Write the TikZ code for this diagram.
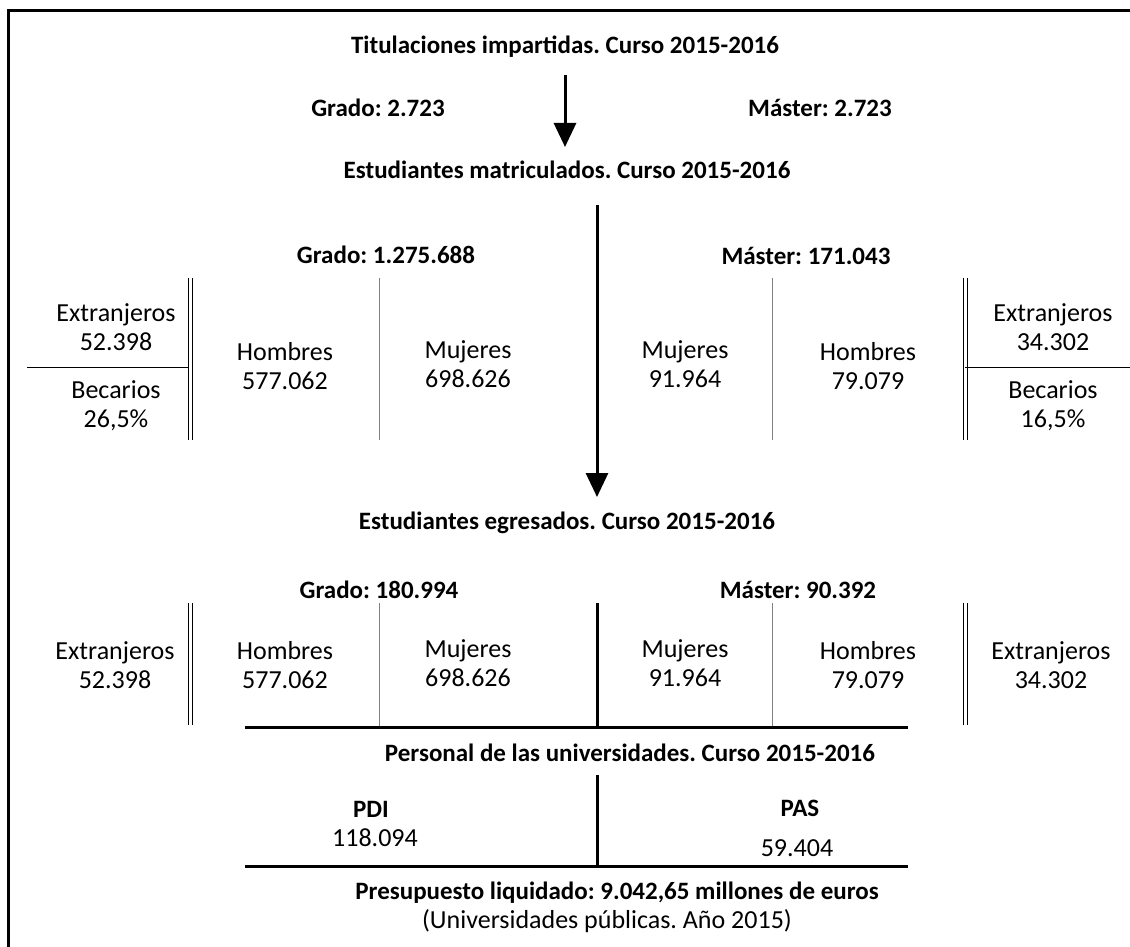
\documentclass[tikz,border=0pt]{standalone}
\usepackage{fontspec}
\setmainfont{Carlito}
\usetikzlibrary{arrows.meta}
\begin{document}
\begin{tikzpicture}[x=1pt,y=-1pt,
  every node/.style={inner sep=0pt,outer sep=0pt,align=center},
  ttl/.style={font=\fontsize{25}{29}\selectfont\bfseries\frenchspacing},
  val/.style={font=\fontsize{26}{29}\selectfont\frenchspacing},
  frameline/.style={line width=3pt},
  heavy/.style={line width=3pt},
  dbl/.style={draw=black,double=white,double distance=3pt,line width=1pt},
  sep/.style={draw=gray,line width=1pt},
  plain/.style={draw=black,line width=1pt},
  arr/.style={line width=3pt,-{Triangle[width=22pt,length=24pt]}}]
\useasboundingbox (0,0) rectangle (1130,947);
% frame
\draw[frameline] (8.5,947) -- (8.5,10.5) -- (1130,10.5);
% top
\node[ttl] (t1) at (565,47) {Titulaciones impartidas. Curso 2015-2016};
\node[ttl] (g1) at (378,108) {Grado: 2.723};
\node[ttl] (m1) at (820,108) {Máster: 2.723};
\coordinate (a1s) at (565,75);
\coordinate (a1e) at (565,147);
\draw[arr] (a1s) -- (a1e);
\node[ttl] (t2) at (567,170) {Estudiantes matriculados. Curso 2015-2016};
\coordinate (a2s) at (597,205);
\coordinate (a2e) at (597,497);
\draw[arr] (a2s) -- (a2e);
% matriculados
\node[ttl] (g2) at (386,255) {Grado: 1.275.688};
\node[ttl] (m2) at (806,256) {Máster: 171.043};
\node[val] (ext1) at (116,327) {Extranjeros\\52.398};
\node[val] (bec1) at (116,406) {Becarios\\26,5\%};
\node[val] (hom1) at (285,366) {Hombres\\577.062};
\node[val] (muj1) at (468,364) {Mujeres\\698.626};
\node[val] (muj2) at (685,364) {Mujeres\\91.964};
\node[val] (hom2) at (868,366) {Hombres\\79.079};
\node[val] (ext2) at (1053,327) {Extranjeros\\34.302};
\node[val] (bec2) at (1053,406) {Becarios\\16,5\%};
\draw[plain] (27,367) -- (190,367);
\draw[dbl] (190,278) -- (190,440);
\draw[sep] (379,278) -- (379,440);
\draw[sep] (772,278) -- (772,440);
\draw[dbl] (965,278) -- (965,440);
\draw[plain] (965,367) -- (1130,367);
% egresados
\node[ttl] (t3) at (567,523) {Estudiantes egresados. Curso 2015-2016};
\node[ttl] (g3) at (379,590) {Grado: 180.994};
\node[ttl] (m3) at (798,590) {Máster: 90.392};
\node[val] (ext3) at (115,665) {Extranjeros\\52.398};
\node[val] (hom3) at (285,665) {Hombres\\577.062};
\node[val] (muj3) at (468,663) {Mujeres\\698.626};
\node[val] (muj4) at (685,663) {Mujeres\\91.964};
\node[val] (hom4) at (868,665) {Hombres\\79.079};
\node[val] (ext4) at (1051,665) {Extranjeros\\34.302};
\draw[dbl] (190,603) -- (190,725);
\draw[sep] (379,603) -- (379,727);
\draw[heavy] (597,603) -- (597,727);
\draw[sep] (772,603) -- (772,727);
\draw[dbl] (965,603) -- (965,725);
\draw[heavy] (245,727) -- (908,727);
% personal
\node[ttl] (t4) at (630,753) {Personal de las universidades. Curso 2015-2016};
\draw[heavy] (597,775) -- (597,866);
\node[ttl] (pdi) at (371,809) {PDI};
\node[val] (pdiv) at (375,838) {118.094};
\node[ttl] (pas) at (800,808) {PAS};
\node[val] (pasv) at (797,848) {59.404};
\draw[heavy] (245,866) -- (908,866);
% presupuesto
\node[ttl] (t5) at (617,893) {Presupuesto liquidado: 9.042,65 millones de euros};
\node[val] (t6) at (607,921) {(Universidades públicas. Año 2015)};
\end{tikzpicture}
\end{document}
